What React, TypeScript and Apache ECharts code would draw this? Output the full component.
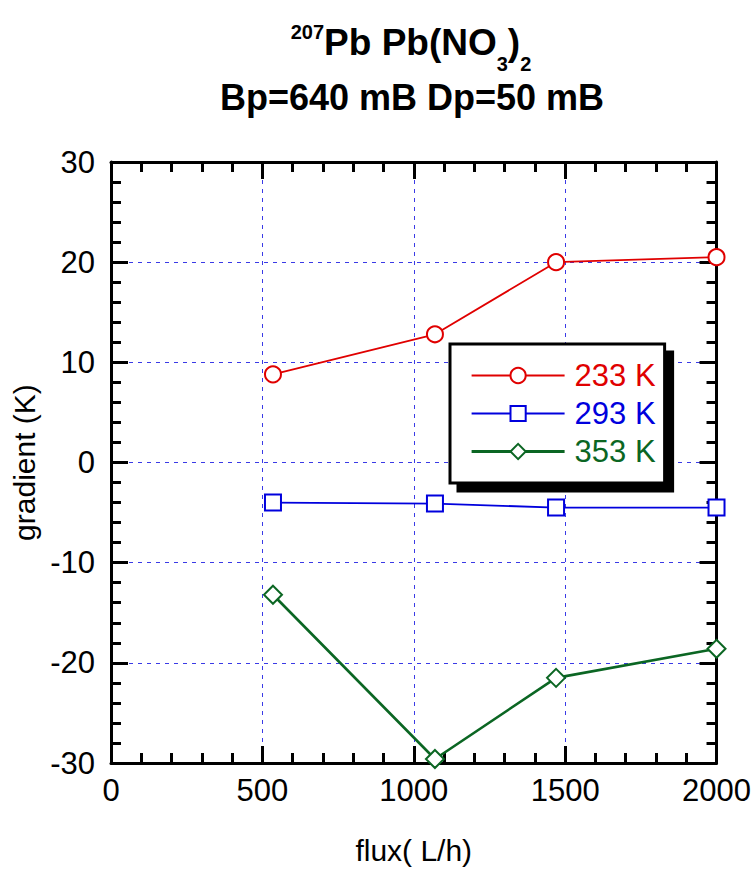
import React, { useEffect, useRef } from 'react';
import * as echarts from 'echarts';

const fluxValues = [535, 1070, 1470, 2000];
const gradient233 = [8.8, 12.8, 20.0, 20.5];
const gradient293 = [-4.0, -4.1, -4.5, -4.5];
const gradient353 = [-13.2, -29.6, -21.5, -18.6];
const seriesNames = ['233 K', '293 K', '353 K'];
const seriesColors = ['#e00000', '#0000dd', '#0b6623'];
const seriesSymbols = ['emptyCircle', 'emptyRect', 'emptyDiamond'];
const seriesSymbolSizes = [16, 16, 18];
const seriesLineWidths = [1.8, 1.8, 2.6];
const legendLineWidths = [2.2, 2.2, 3.2];
const titleMain = 'Pb Pb(NO';
const titleIsotope = '207';
const titleLine2 = 'Bp=640 mB Dp=50 mB';
const xAxisName = 'flux( L/h)';
const yAxisName = 'gradient (K)';

const FONT = '"Liberation Sans", Arial, Helvetica, sans-serif';

export default function App() {
  const ref = useRef<HTMLDivElement>(null);
  useEffect(() => {
    if (!ref.current) return;
    const chart = echarts.init(ref.current, undefined, { renderer: 'svg' });
    const allY = [gradient233, gradient293, gradient353];
    const axisLine = { show: true, onZero: false, lineStyle: { color: '#000', width: 3 } };
    const tick = { show: true, inside: true, length: 17, lineStyle: { color: '#000', width: 3 } };
    const minorTick = { show: true, splitNumber: 5, length: 10, lineStyle: { color: '#000', width: 3 } };
    const gridLine = { show: true, lineStyle: { color: '#3a3ae6', width: 1, type: [4, 5] as any } };
    const xBase = { type: 'value', min: 0, max: 2000, interval: 500 };
    const yBase = { type: 'value', min: -30, max: 30, interval: 10 };
    const plain = (v: number) => String(v);
    const option: any = {
      animation: false,
      backgroundColor: '#fff',
      textStyle: { fontFamily: FONT },
      grid: { left: 111, right: 37, top: 162, bottom: 103 },
      graphic: [
        {
          type: 'text',
          x: 411,
          y: 19,
          style: {
            text: `{sup|${titleIsotope}}{b|${titleMain}}{sub|3}{b|)}{sub|2}`,
            align: 'center',
            verticalAlign: 'top',
            rich: {
              b: { fontSize: 37, fontWeight: 'bold', fontFamily: FONT, fill: '#000', height: 47, verticalAlign: 'top' },
              sup: { fontSize: 20, fontWeight: 'bold', fontFamily: FONT, fill: '#000', height: 25, verticalAlign: 'top' },
              sub: { fontSize: 20, fontWeight: 'bold', fontFamily: FONT, fill: '#000', height: 89, verticalAlign: 'top' },
            },
          },
        },
        {
          type: 'text',
          x: 412,
          y: 97,
          style: {
            text: titleLine2,
            align: 'center',
            verticalAlign: 'middle',
            fontSize: 36,
            fontWeight: 'bold',
            fontFamily: FONT,
            fill: '#000',
          },
        },
      ],
      legend: {
        orient: 'vertical',
        left: 450,
        top: 344,
        itemWidth: 93,
        itemHeight: 19,
        itemGap: 7,
        padding: [16, 9, 16, 20],
        backgroundColor: '#fff',
        borderColor: '#000',
        borderWidth: 3,
        borderRadius: 0,
        shadowColor: '#000',
        shadowBlur: 0,
        shadowOffsetX: 8,
        shadowOffsetY: 8,
        textStyle: { fontSize: 31, fontFamily: FONT, padding: [0, 0, 0, 5] },
        data: seriesNames.map((n, i) => ({
          name: n,
          textStyle: { color: seriesColors[i] },
          lineStyle: { width: legendLineWidths[i], color: seriesColors[i] },
        })),
      },
      xAxis: [
        {
          ...xBase,
          position: 'bottom',
          name: xAxisName,
          nameLocation: 'middle',
          nameGap: 72,
          nameTextStyle: { fontSize: 30, color: '#000', fontFamily: FONT },
          axisLine,
          axisTick: tick,
          minorTick,
          splitLine: gridLine,
          axisLabel: { fontSize: 31, color: '#000', margin: 12, fontFamily: FONT, formatter: plain },
        },
        {
          ...xBase,
          position: 'top',
          axisLine,
          axisTick: tick,
          minorTick,
          splitLine: { show: false },
          axisLabel: { show: false },
        },
      ],
      yAxis: [
        {
          ...yBase,
          position: 'left',
          name: yAxisName,
          nameLocation: 'middle',
          nameGap: 64,
          nameTextStyle: { fontSize: 30, color: '#000', fontFamily: FONT },
          axisLine,
          axisTick: tick,
          minorTick,
          splitLine: gridLine,
          axisLabel: { fontSize: 31, color: '#000', margin: 16, fontFamily: FONT, formatter: plain },
        },
        {
          ...yBase,
          position: 'right',
          axisLine,
          axisTick: tick,
          minorTick,
          splitLine: { show: false },
          axisLabel: { show: false },
        },
      ],
      series: seriesNames.map((name, i) => ({
        name,
        type: 'line',
        xAxisIndex: 0,
        yAxisIndex: 0,
        symbol: seriesSymbols[i],
        symbolSize: seriesSymbolSizes[i],
        showAllSymbol: true,
        clip: false,
        z: 5,
        lineStyle: { color: seriesColors[i], width: seriesLineWidths[i] },
        itemStyle: { color: seriesColors[i], borderColor: seriesColors[i], borderWidth: 2.2 },
        data: fluxValues.map((x, j) => [x, allY[i][j]]),
      })),
    };
    chart.setOption(option);
    return () => chart.dispose();
  }, []);
  return (
    <div
      ref={ref}
      style={{ position: 'fixed', left: 0, top: 0, width: 754, height: 870, background: '#fff' }}
    />
  );
}
